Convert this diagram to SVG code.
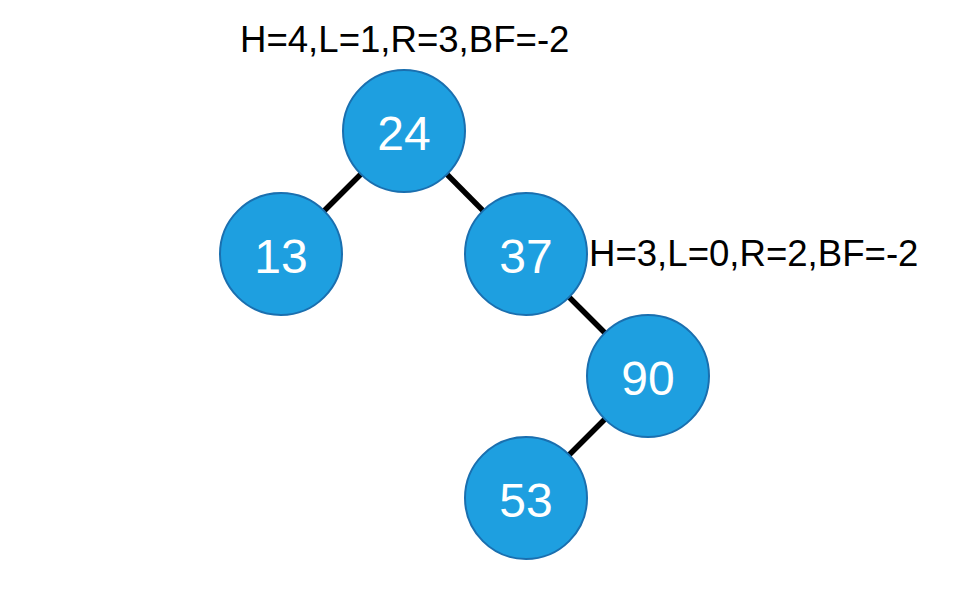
<svg xmlns="http://www.w3.org/2000/svg" width="972" height="596" viewBox="0 0 972 596">
<style>
.node circle{fill:#1E9FE0;stroke:#1A6FAF;stroke-width:2}
.node text{fill:#fff;font-family:"Liberation Sans",Arial,sans-serif;font-size:48px;text-anchor:middle}
.lbl{fill:#000;font-family:"Liberation Sans",Arial,sans-serif;font-size:36.6px}
.edges line{stroke:#000;stroke-width:5.5}
</style>
<rect width="972" height="596" fill="#fff"/>
<g id="connectors" class="edges">
<line x1="404" y1="131" x2="281" y2="254"/>
<line x1="404" y1="131" x2="526" y2="254"/>
<line x1="526" y1="254" x2="648" y2="376"/>
<line x1="648" y1="376" x2="526" y2="498"/>
</g>
<g id="n24" class="node"><circle cx="404" cy="131" r="61"/><text x="404" y="150">24</text></g>
<g id="n13" class="node"><circle cx="281" cy="254" r="61"/><text x="281" y="273">13</text></g>
<g id="n37" class="node"><circle cx="526" cy="254" r="61"/><text x="526" y="273">37</text></g>
<g id="n90" class="node"><circle cx="648" cy="376" r="61"/><text x="648" y="395">90</text></g>
<g id="n53" class="node"><circle cx="526" cy="498" r="61"/><text x="526" y="517">53</text></g>
<text class="lbl" x="240" y="52">H=4,L=1,R=3,BF=-2</text>
<text class="lbl" x="589" y="266">H=3,L=0,R=2,BF=-2</text>
</svg>
